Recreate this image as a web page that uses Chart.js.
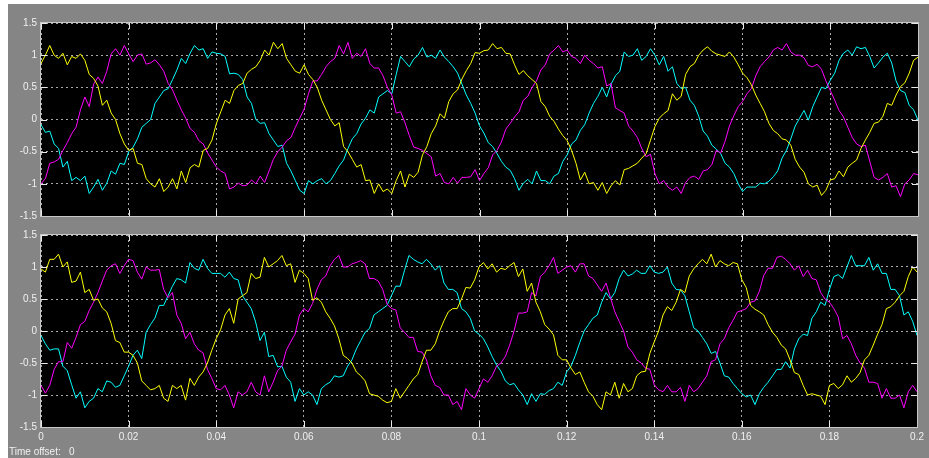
<!DOCTYPE html>
<html>
<head>
<meta charset="utf-8">
<script src="https://cdn.jsdelivr.net/npm/chart.js@4.4.1/dist/chart.umd.min.js"></script>
<style>
  html, body { margin: 0; padding: 0; background: #fff; width: 929px; height: 458px; overflow: hidden; }
  #frame { position: absolute; left: 8px; top: 4px; right: 0; bottom: 0; background: #858585; }
  canvas { position: absolute; left: 0; }
  #topChart { top: 0; }
  #bottomChart { top: 223px; }
  #offset { position: absolute; left: 9px; top: 446px; font: 10px "Liberation Sans", Arial, sans-serif; color: #f0f0f0; white-space: pre; }
</style>
</head>
<body>
<div id="frame"></div>
<canvas id="topChart" width="929" height="228"></canvas>
<canvas id="bottomChart" width="929" height="235"></canvas>
<div id="offset">Time offset:   0</div>
<script>
// samples every 1 ms, 0 .. 0.2 s
const topYellow = [
  0.87,1.0,1.15,1.0,0.95,1.03,0.85,0.98,0.95,1.02,
  0.92,0.7,0.64,0.52,0.22,0.3,0.1,0.0,-0.22,-0.38,
  -0.48,-0.45,-0.68,-0.7,-0.92,-1.0,-1.05,-0.92,-1.12,-1.05,
  -0.92,-1.08,-0.8,-0.98,-0.75,-0.7,-0.74,-0.48,-0.45,-0.32,
  -0.06,0.12,0.3,0.25,0.45,0.53,0.56,0.72,0.78,0.82,
  0.92,1.08,1.0,1.2,1.1,1.18,0.95,0.85,0.75,0.72,
  0.85,0.7,0.62,0.5,0.3,0.15,0.0,-0.1,-0.05,-0.42,
  -0.5,-0.62,-0.74,-0.7,-0.95,-0.94,-1.15,-1.0,-1.12,-1.08,
  -1.15,-0.95,-0.8,-1.05,-0.85,-0.9,-0.82,-0.55,-0.42,-0.22,
  -0.1,0.09,0.02,0.28,0.4,0.46,0.63,0.76,0.87,1.04,
  1.03,1.07,1.08,1.18,1.1,1.12,1.03,1.02,0.85,0.7,
  0.76,0.68,0.62,0.56,0.28,0.2,0.05,-0.03,-0.15,-0.25,
  -0.33,-0.48,-0.68,-0.94,-0.82,-1.0,-0.98,-1.1,-0.98,-1.15,
  -1.03,-0.95,-1.02,-0.78,-0.76,-0.72,-0.68,-0.6,-0.53,-0.32,
  -0.11,0.02,0.09,0.14,0.4,0.3,0.36,0.7,0.82,0.87,
  1.0,1.08,1.13,1.06,1.02,1.0,0.98,1.05,0.97,0.85,
  0.72,0.65,0.54,0.38,0.25,0.12,-0.06,-0.17,-0.22,-0.3,
  -0.32,-0.4,-0.62,-0.74,-0.82,-1.0,-1.05,-1.02,-1.18,-1.1,
  -0.94,-0.92,-0.8,-0.89,-0.74,-0.68,-0.63,-0.45,-0.32,-0.2,
  -0.06,-0.04,0.05,0.25,0.22,0.38,0.51,0.57,0.72,0.92,
  0.97
];
const topMagenta = [
  -1.0,-0.92,-0.68,-0.66,-0.62,-0.48,-0.36,-0.22,-0.12,0.15,
  0.35,0.2,0.55,0.66,0.56,0.75,1.02,1.1,1.0,1.15,
  1.02,0.9,1.0,1.02,0.86,0.88,0.93,0.85,0.75,0.56,
  0.46,0.3,0.15,0.02,-0.14,-0.2,-0.33,-0.38,-0.52,-0.63,
  -0.74,-0.8,-0.84,-1.08,-1.05,-0.99,-1.03,-1.02,-0.94,-1.0,
  -0.88,-0.98,-0.8,-0.62,-0.5,-0.43,-0.33,-0.28,-0.12,0.02,
  0.16,0.4,0.6,0.6,0.7,0.82,0.9,0.95,1.15,1.02,
  1.2,0.95,1.03,0.98,1.1,0.87,0.8,0.8,0.68,0.5,
  0.38,0.1,0.12,-0.05,-0.25,-0.43,-0.45,-0.48,-0.53,-0.58,
  -0.88,-0.84,-0.98,-1.0,-0.9,-0.99,-0.9,-0.9,-0.89,-0.78,
  -0.95,-0.84,-0.75,-0.55,-0.48,-0.35,-0.15,-0.06,0.04,0.12,
  0.3,0.36,0.5,0.6,0.77,0.85,1.02,1.08,1.15,1.05,
  1.08,0.98,0.95,0.87,1.0,0.92,0.87,0.8,0.82,0.52,
  0.56,0.18,0.14,0.1,-0.1,-0.18,-0.28,-0.45,-0.58,-0.54,
  -0.84,-1.0,-0.95,-1.05,-1.1,-1.05,-1.15,-0.98,-0.9,-0.88,
  -0.93,-0.8,-0.78,-0.7,-0.48,-0.52,-0.34,-0.1,0.06,0.2,
  0.28,0.4,0.48,0.68,0.82,0.9,0.97,1.08,1.12,1.08,
  1.18,1.05,1.0,1.0,0.96,0.84,0.82,0.86,0.78,0.6,
  0.45,0.3,0.14,0.04,-0.12,-0.28,-0.38,-0.42,-0.4,-0.65,
  -0.9,-0.94,-0.9,-0.84,-1.05,-1.03,-1.2,-1.0,-0.94,-0.84,
  -0.86
];
const topCyan = [
  -0.08,-0.2,-0.18,-0.38,-0.45,-0.74,-0.65,-0.95,-0.9,-0.95,
  -0.88,-1.15,-1.05,-0.93,-1.1,-0.99,-0.8,-0.85,-0.68,-0.7,
  -0.5,-0.43,-0.3,-0.12,-0.06,0.0,0.25,0.35,0.45,0.48,
  0.62,0.77,0.95,0.87,1.03,1.15,1.08,1.1,0.95,1.05,
  1.03,1.02,0.98,0.71,0.72,0.7,0.62,0.35,0.25,0.0,
  -0.06,-0.05,-0.22,-0.32,-0.42,-0.4,-0.68,-0.8,-0.95,-1.1,
  -1.15,-0.95,-1.0,-0.95,-0.92,-1.0,-0.95,-0.84,-0.72,-0.63,
  -0.45,-0.3,-0.22,-0.07,0.02,0.15,0.1,0.35,0.4,0.45,
  0.4,0.7,0.98,0.9,0.82,0.94,1.0,1.12,0.97,1.0,
  0.95,1.08,0.97,0.9,0.82,0.72,0.55,0.38,0.25,0.1,
  -0.1,-0.21,-0.36,-0.42,-0.53,-0.65,-0.74,-0.79,-0.92,-1.1,
  -0.99,-0.93,-1.0,-0.8,-0.95,-0.95,-1.0,-0.88,-0.84,-0.65,
  -0.55,-0.38,-0.32,-0.17,-0.08,0.1,0.25,0.36,0.5,0.35,
  0.55,0.68,0.75,1.05,0.98,1.0,1.1,0.92,0.98,1.1,
  1.0,0.85,0.98,0.75,0.82,0.56,0.48,0.5,0.3,0.22,
  0.05,-0.18,-0.26,-0.4,-0.46,-0.53,-0.68,-0.74,-0.84,-1.0,
  -1.12,-1.05,-1.05,-1.05,-0.99,-1.0,-0.96,-0.89,-0.8,-0.6,
  -0.48,-0.3,-0.1,0.02,0.14,-0.01,0.2,0.35,0.5,0.48,
  0.61,0.72,0.92,1.03,1.08,1.0,1.13,1.1,1.12,0.98,
  0.8,0.88,0.97,1.03,0.88,0.6,0.45,0.42,0.22,0.15,
  -0.01
];
const bottomYellow = [
  0.97,0.92,1.12,1.12,1.2,1.0,1.08,0.76,0.78,0.92,
  0.6,0.65,0.48,0.5,0.36,0.3,0.12,-0.15,-0.18,-0.33,
  -0.33,-0.38,-0.5,-0.78,-0.85,-0.92,-0.9,-0.85,-1.05,-1.1,
  -0.85,-0.9,-0.85,-1.08,-0.74,-0.85,-0.72,-0.64,-0.5,-0.3,
  -0.12,0.02,0.25,0.35,0.12,0.5,0.55,0.6,0.9,0.82,
  0.84,1.15,1.0,1.05,1.1,1.18,1.02,1.05,0.76,0.95,
  0.9,0.82,0.48,0.52,0.45,0.3,0.2,0.08,-0.12,-0.38,
  -0.43,-0.5,-0.64,-0.7,-0.78,-0.98,-1.0,-1.02,-1.08,-1.12,
  -1.1,-0.9,-1.05,-0.95,-0.85,-0.75,-0.68,-0.48,-0.3,-0.3,
  -0.2,0.0,0.16,0.3,0.35,0.35,0.5,0.68,0.67,0.8,
  1.0,1.07,0.97,1.05,0.92,0.98,0.96,1.02,1.07,0.85,
  0.97,0.62,0.75,0.45,0.3,0.1,0.03,-0.06,-0.38,-0.45,
  -0.45,-0.58,-0.68,-0.64,-0.8,-0.95,-1.02,-1.15,-1.23,-0.95,
  -1.0,-0.8,-1.05,-0.82,-0.95,-0.9,-0.7,-0.64,-0.63,-0.35,
  -0.17,0.0,0.25,0.38,0.32,0.45,0.65,0.6,0.86,0.97,
  1.05,1.12,1.05,1.2,1.0,1.1,1.05,1.02,1.07,1.05,
  0.8,0.68,0.4,0.34,0.3,0.25,0.1,-0.02,-0.1,-0.22,
  -0.28,-0.45,-0.65,-0.68,-0.85,-1.0,-0.98,-1.0,-1.02,-1.15,
  -0.85,-0.82,-0.9,-0.84,-0.7,-0.8,-0.74,-0.65,-0.45,-0.38,
  -0.22,-0.05,0.1,0.35,0.38,0.45,0.55,0.62,0.85,1.0,
  0.92
];
const bottomMagenta = [
  -0.85,-0.97,-0.85,-0.6,-0.48,-0.48,-0.18,-0.27,-0.1,0.1,
  0.15,0.32,0.45,0.6,0.78,0.95,1.02,1.05,0.9,1.02,
  1.12,1.1,0.92,0.81,1.0,0.95,0.95,0.96,0.65,0.52,
  0.6,0.25,0.12,-0.12,-0.02,-0.2,-0.3,-0.34,-0.6,-0.74,
  -0.9,-0.92,-0.85,-1.0,-1.2,-0.95,-1.0,-0.95,-0.8,-0.95,
  -1.0,-0.7,-0.95,-0.8,-0.62,-0.55,-0.3,-0.17,-0.05,0.25,
  0.35,0.3,0.43,0.65,0.8,0.86,1.02,1.12,1.18,1.0,
  1.0,1.05,1.07,1.1,1.05,0.82,0.82,0.78,0.65,0.42,
  0.35,0.33,0.05,-0.02,-0.1,-0.1,-0.32,-0.33,-0.45,-0.7,
  -0.85,-0.88,-1.0,-1.0,-1.15,-1.1,-1.23,-0.9,-1.0,-1.05,
  -0.9,-0.75,-0.8,-0.7,-0.55,-0.5,-0.4,-0.22,0.0,0.28,
  0.28,0.3,0.6,0.55,0.85,0.92,1.02,1.15,0.9,0.95,
  1.0,1.02,0.92,1.05,1.05,0.86,0.82,0.72,0.62,0.75,
  0.52,0.3,0.15,0.0,-0.25,-0.33,-0.45,-0.5,-0.58,-0.6,
  -0.84,-0.92,-0.95,-0.85,-0.95,-0.95,-0.88,-1.1,-0.85,-0.95,
  -0.9,-0.8,-0.7,-0.48,-0.45,-0.2,-0.12,0.05,0.17,0.3,
  0.32,0.35,0.45,0.47,0.62,0.87,0.98,0.98,1.15,1.17,
  1.12,1.05,0.95,1.02,0.85,0.95,0.82,0.8,0.6,0.5,
  0.45,0.35,0.22,-0.12,-0.07,-0.2,-0.38,-0.5,-0.58,-0.8,
  -0.8,-0.82,-1.05,-0.9,-1.05,-1.05,-1.0,-1.2,-0.95,-0.85,
  -0.95
];
const bottomCyan = [
  -0.07,-0.2,-0.3,-0.28,-0.28,-0.55,-0.62,-0.84,-1.05,-0.95,
  -1.2,-1.1,-1.05,-0.9,-0.95,-0.78,-0.8,-0.88,-0.85,-0.7,
  -0.55,-0.38,-0.3,-0.43,-0.02,0.1,0.2,0.4,0.4,0.55,
  0.7,0.82,0.8,0.75,1.07,0.98,0.95,1.12,0.98,0.9,
  0.9,0.9,0.84,0.92,0.82,0.8,0.55,0.45,0.35,0.14,
  -0.15,-0.02,-0.4,-0.38,-0.56,-0.55,-0.72,-0.8,-1.1,-0.9,
  -1.0,-0.95,-1.0,-1.15,-0.9,-0.84,-0.8,-0.7,-0.72,-0.7,
  -0.55,-0.45,-0.28,-0.15,-0.02,0.04,0.25,0.3,0.35,0.4,
  0.55,0.7,0.7,0.95,1.18,1.12,1.08,1.05,1.12,1.05,
  0.95,1.02,0.75,0.65,0.65,0.6,0.35,0.3,0.2,0.0,
  -0.05,-0.12,-0.25,-0.4,-0.53,-0.63,-0.78,-0.84,-0.82,-0.92,
  -1.0,-1.15,-0.98,-1.1,-0.98,-0.99,-0.93,-0.9,-0.8,-0.85,
  -0.64,-0.55,-0.38,-0.18,0.0,0.1,0.2,0.25,0.45,0.6,
  0.5,0.6,0.82,0.95,0.86,0.89,0.95,0.9,0.9,1.02,
  0.92,0.9,0.92,1.0,0.75,0.65,0.64,0.55,0.3,0.05,
  0.0,-0.1,-0.2,-0.35,-0.32,-0.5,-0.7,-0.72,-0.82,-0.9,
  -0.98,-1.03,-1.0,-1.15,-0.98,-0.88,-0.8,-0.7,-0.6,-0.6,
  -0.48,-0.58,-0.28,-0.12,-0.05,-0.07,0.2,0.3,0.45,0.4,
  0.65,0.85,0.88,0.82,1.0,1.18,1.02,1.02,1.02,1.15,
  0.95,1.05,0.9,0.9,0.65,0.65,0.55,0.25,0.3,0.15,
  -0.07
];

const sampleStep = 0.001;   // s
const timeMax = 0.2;
const yTicks = [-1.5, -1, -0.5, 0, 0.5, 1, 1.5];

const labelFont = { family: '"Liberation Sans", Arial, sans-serif', size: 10, lineHeight: 1 };
const labelColor = '#f0f0f0';
const gridColor = 'rgba(200, 200, 200, 0.85)';

function toPoints(values) {
  return values.map((v, i) => ({ x: i * sampleStep, y: v }));
}

// trims 1.0 -> "1", 0.060000001 -> "0.06"
function shortNum(v) {
  return String(Number(Number(v).toFixed(2)));
}

// black plot area, light box and the short tick marks inside the axes
const scopeFrame = {
  id: 'scopeFrame',
  beforeDraw(chart) {
    const a = chart.chartArea, ctx = chart.ctx;
    ctx.save();
    ctx.fillStyle = '#000';
    ctx.fillRect(a.left, a.top, a.right - a.left, a.bottom - a.top);
    ctx.restore();
  },
  afterDraw(chart) {
    const a = chart.chartArea, ctx = chart.ctx;
    const len = 6;
    ctx.save();
    ctx.strokeStyle = '#e8e8e8';
    ctx.lineWidth = 1;
    ctx.beginPath();
    chart.scales.x.ticks.forEach(t => {
      const px = Math.round(chart.scales.x.getPixelForValue(t.value)) + 0.5;
      ctx.moveTo(px, a.top); ctx.lineTo(px, a.top + len);
      ctx.moveTo(px, a.bottom); ctx.lineTo(px, a.bottom - len);
    });
    chart.scales.y.ticks.forEach(t => {
      const py = Math.round(chart.scales.y.getPixelForValue(t.value)) + 0.5;
      ctx.moveTo(a.left, py); ctx.lineTo(a.left + len, py);
      ctx.moveTo(a.right, py); ctx.lineTo(a.right - len, py);
    });
    ctx.stroke();
    ctx.strokeStyle = '#c8c8c8';
    ctx.strokeRect(Math.round(a.left) - 0.5, Math.round(a.top) - 0.5,
                   Math.round(a.right - a.left) + 1, Math.round(a.bottom - a.top) + 1);
    ctx.restore();
  }
};

function makePanel(id, yellow, magenta, cyan, showX, padTop, xHeight) {
  const ctx = document.getElementById(id).getContext('2d');
  const line = (data, color) => ({
    data: toPoints(data),
    borderColor: color,
    borderWidth: 1,
    pointRadius: 0,
    tension: 0,
    fill: false
  });
  return new Chart(ctx, {
    type: 'line',
    data: {
      datasets: [
        line(yellow, '#ffff00'),
        line(magenta, '#ff00ff'),
        line(cyan, '#00ffff')
      ]
    },
    options: {
      responsive: false,
      animation: false,
      devicePixelRatio: 1,
      layout: { padding: { top: padTop, right: 11, left: 0, bottom: 0 } },
      plugins: { legend: { display: false }, tooltip: { enabled: false } },
      scales: {
        x: {
          type: 'linear',
          min: 0,
          max: timeMax,
          ticks: {
            display: showX,
            stepSize: 0.02,
            color: labelColor,
            font: labelFont,
            padding: 5,
            maxRotation: 0,
            autoSkip: false,
            callback: shortNum
          },
          grid: { color: gridColor, lineWidth: 1, drawTicks: false },
          border: { display: false, dash: [2, 3] },
          afterFit: s => { s.height = xHeight; }
        },
        y: {
          min: yTicks[0],
          max: yTicks[yTicks.length - 1],
          ticks: {
            stepSize: 0.5,
            color: labelColor,
            font: labelFont,
            padding: 4,
            callback: shortNum
          },
          grid: { color: gridColor, lineWidth: 1, drawTicks: false },
          border: { display: false, dash: [2, 3] },
          afterFit: s => { s.width = 41; }
        }
      }
    },
    plugins: [scopeFrame]
  });
}

// plot areas: top 23..216, bottom 235..427, x 41..918
makePanel('topChart', topYellow, topMagenta, topCyan, false, 23, 12);
makePanel('bottomChart', bottomYellow, bottomMagenta, bottomCyan, true, 12, 31);
</script>
</body>
</html>
